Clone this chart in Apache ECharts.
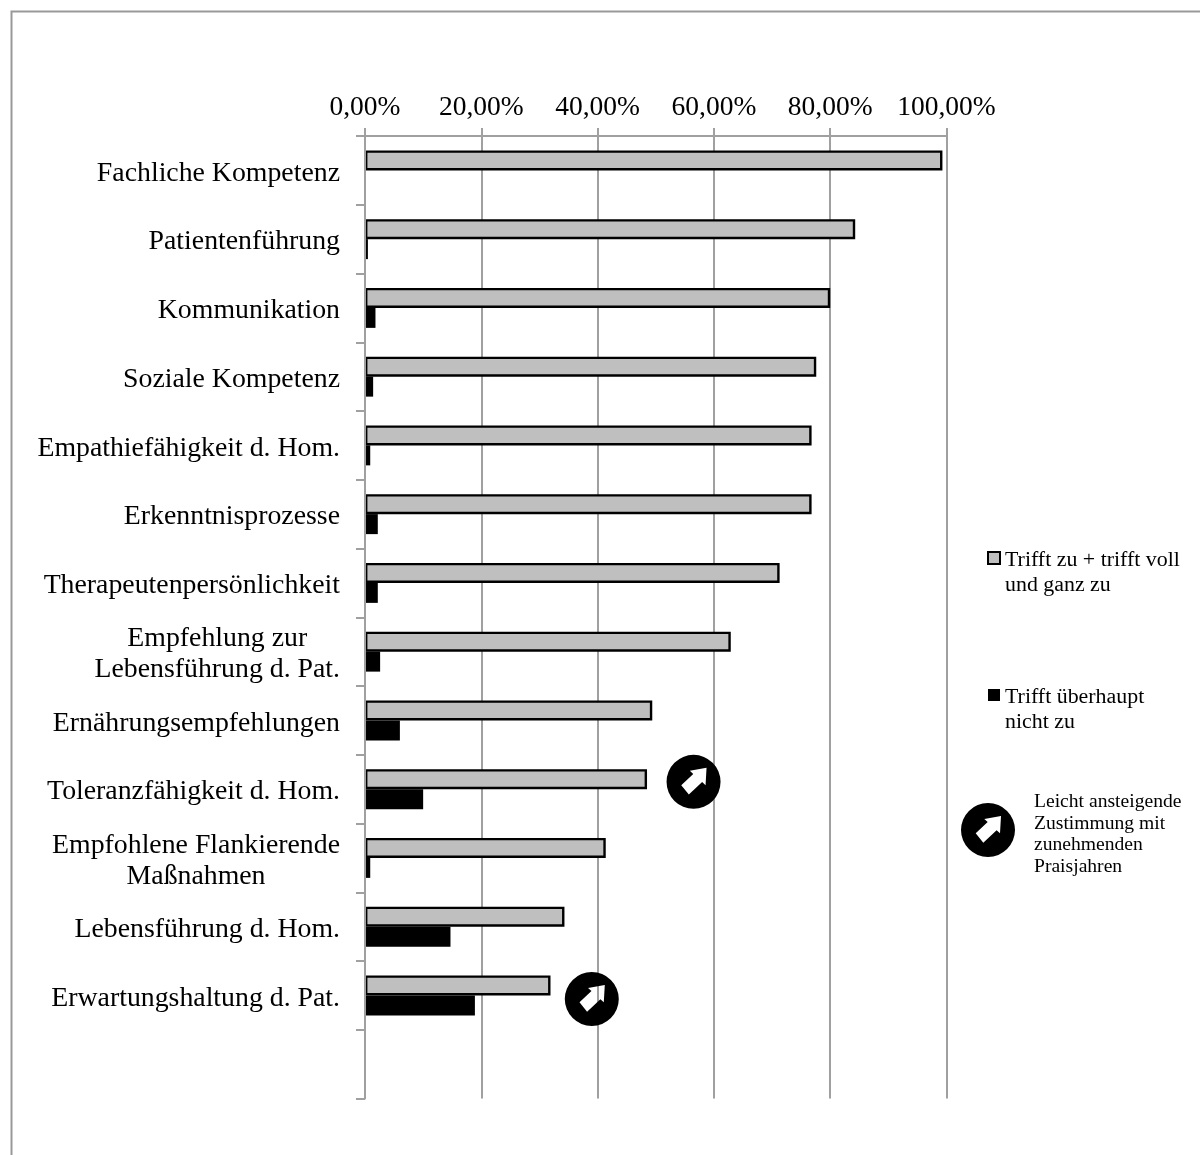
<!DOCTYPE html>
<html><head><meta charset="utf-8">
<style>html,body{margin:0;padding:0;background:#fff}#c{width:1200px;height:1155px}</style>
<script src="https://cdn.jsdelivr.net/npm/echarts@6/dist/echarts.min.js"></script>
</head><body><div id="c"></div>
<script>
const categories = ['Fachliche Kompetenz','Patientenführung','Kommunikation','Soziale Kompetenz','Empathiefähigkeit d. Hom.','Erkenntnisprozesse','Therapeutenpersönlichkeit','Empfehlung zur\nLebensführung d. Pat.','Ernährungsempfehlungen','Toleranzfähigkeit d. Hom.','Empfohlene Flankierende\nMaßnahmen','Lebensführung d. Hom.','Erwartungshaltung d. Pat.',''];
const agree = [99.3,84.3,80.0,77.6,76.8,76.8,71.3,62.9,49.4,48.5,41.4,34.3,31.9,null];
const disagree = [0,0.5,1.8,1.4,0.9,2.2,2.2,2.6,6.0,10.0,0.9,14.7,18.9,null];
const seriesNames = ['Trifft zu + trifft voll\nund ganz zu','Trifft überhaupt\nnicht zu'];
const risingNote = ['Leicht ansteigende','Zustimmung mit','zunehmenden','Praisjahren'];
const risingItems = [
  {value:56.5, category:categories[9], shift:-17.3},
  {value:39, category:categories[12], shift:-6.4}
];
const FONT = '"Liberation Serif"';
const AX = '#a0a0a0';
const BADGE = 'path://M-27,0A27,27 0 1 1 27,0A27,27 0 1 1 -27,0Z M-0.3,-7.9L-12.3,3.3L-4.7,12.7L8.6,0.2L12,3.3L13,-14L-3.7,-11Z';
const chart = echarts.init(document.getElementById('c'), null, {renderer:'canvas'});
chart.setOption({
  animation:false,
  backgroundColor:'#fff',
  grid:{left:365,top:136,width:581.5,height:962.5,containLabel:false},
  legend:{
    orient:'vertical',left:987,top:548,padding:0,itemWidth:12,itemHeight:42,itemGap:87,
    data:seriesNames,icon:'path://M0,0H12V12H0Z M0,42',
    align:'left',
    selectedMode:false,
    textStyle:{fontFamily:FONT,fontSize:21.9,lineHeight:25,color:'#000'}
  },
  xAxis:{
    type:'value',position:'top',min:0,max:100,interval:20,
    axisLine:{show:true,lineStyle:{color:AX,width:2}},
    axisTick:{show:true,length:8,lineStyle:{color:AX,width:2}},
    splitLine:{show:true,lineStyle:{color:AX,width:2}},
    axisLabel:{margin:14,fontFamily:FONT,fontSize:27.5,color:'#000',
      formatter:v=>v.toFixed(2).replace('.',',')+'%'}
  },
  yAxis:{
    type:'category',inverse:true,data:categories,z:3,
    axisLine:{show:true,lineStyle:{color:AX,width:2}},
    axisTick:{show:true,length:9,lineStyle:{color:AX,width:2}},
    axisLabel:{margin:25,color:'#000',fontFamily:FONT,fontSize:27.8,lineHeight:31,interval:0,padding:[6,0,0,0],
      formatter:v=>v.split('\n').map(l=>'{c|'+l+'}').join('\n'),
      rich:{c:{align:'center',fontFamily:FONT,fontSize:27.8,lineHeight:31,color:'#000'}}}
  },
  series:[
    {name:seriesNames[0],type:'bar',data:agree,barWidth:20,barGap:0,
     itemStyle:{color:'#bfbfbf',borderColor:'#000',borderWidth:2.4}},
    {name:seriesNames[1],type:'bar',data:disagree,barWidth:20,barGap:0,
     itemStyle:{color:'#000'},
     markPoint:{silent:true,symbol:BADGE,symbolSize:54,symbolKeepAspect:true,
       itemStyle:{color:'#000'},label:{show:false},
       data:risingItems.map(r=>({coord:[r.value,r.category],symbolOffset:[0,r.shift]}))
         .concat([{x:988,y:830}])}}
  ],
  graphic:[
    {type:'polyline',silent:true,shape:{points:[[11.5,1155],[11.5,11.5],[1200,11.5]]},style:{stroke:'#999',lineWidth:2,fill:null}},
    {type:'text',silent:true,x:1034,y:791,style:{text:risingNote.join('\n'),font:'19.6px '+FONT,lineHeight:21.7,fill:'#000'}}
  ]
});
</script></body></html>
